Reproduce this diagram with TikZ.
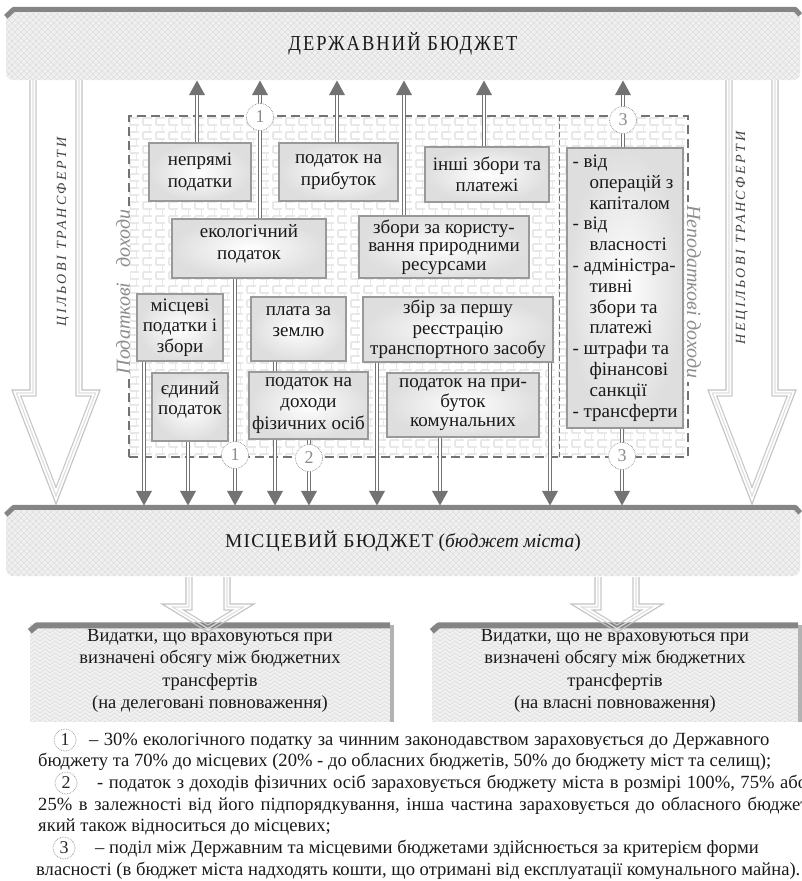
\documentclass[tikz,border=0pt]{standalone}
\usepackage{fontspec}
\setmainfont{Liberation Serif}
\newfontfamily\trackedserif[LetterSpace=18]{Liberation Serif}
\newfontfamily\bannerserif[LetterSpace=11]{Liberation Serif}
\newfontfamily\bannerserifb[LetterSpace=6]{Liberation Serif}
\usepackage{graphicx}
\usetikzlibrary{arrows.meta,patterns,calc}

% brick wall behind the revenue groups
\pgfdeclarepatternformonly{brickwall}{\pgfpoint{-1pt}{-1pt}}{\pgfpoint{14pt}{15pt}}{\pgfpoint{13pt}{14pt}}{%
  \pgfsetlinewidth{1.4pt}%
  \pgfpathmoveto{\pgfpoint{0pt}{0pt}}\pgfpathlineto{\pgfpoint{13pt}{0pt}}%
  \pgfpathmoveto{\pgfpoint{0pt}{7pt}}\pgfpathlineto{\pgfpoint{13pt}{7pt}}%
  \pgfpathmoveto{\pgfpoint{0pt}{0pt}}\pgfpathlineto{\pgfpoint{0pt}{7pt}}%
  \pgfpathmoveto{\pgfpoint{6.5pt}{7pt}}\pgfpathlineto{\pgfpoint{6.5pt}{14pt}}%
  \pgfusepath{stroke}}
% diamond net on the budget banners
\pgfdeclarepatternformonly{diamondnet}{\pgfpoint{-1pt}{-1pt}}{\pgfpoint{7pt}{7pt}}{\pgfpoint{6pt}{6pt}}{%
  \pgfsetlinewidth{0.5pt}%
  \pgfpathmoveto{\pgfpoint{0pt}{0pt}}\pgfpathlineto{\pgfpoint{6pt}{6pt}}%
  \pgfpathmoveto{\pgfpoint{0pt}{6pt}}\pgfpathlineto{\pgfpoint{6pt}{0pt}}%
  \pgfusepath{stroke}}
% zigzag texture of the expenditure boxes
\pgfdeclarepatternformonly{chevrons}{\pgfpoint{-1pt}{-1pt}}{\pgfpoint{11pt}{9pt}}{\pgfpoint{10pt}{8pt}}{%
  \pgfsetlinewidth{0.5pt}%
  \pgfpathmoveto{\pgfpoint{0pt}{0pt}}\pgfpathlineto{\pgfpoint{5pt}{4pt}}\pgfpathlineto{\pgfpoint{10pt}{0pt}}%
  \pgfpathmoveto{\pgfpoint{0pt}{4pt}}\pgfpathlineto{\pgfpoint{5pt}{8pt}}\pgfpathlineto{\pgfpoint{10pt}{4pt}}%
  \pgfusepath{stroke}}

\pgfdeclarelayer{bottom}
\pgfdeclarelayer{links}
\pgfsetlayers{bottom,links,main}

% hollow block arrow drawn as three nested outlines
% #1 cx, #2 top, #3 neck, #4 tip, #5 shaft half width, #6 head half width, #7/#8 inset factors
\newcommand\hollowarrow[8]{%
  \foreach \dd/\col in {0/black!24,3/black!13,6/black!22}{%
    \draw[draw=\col, line width=1.1pt, line join=miter]
      ({#1-#5+\dd},#2) -- ({#1-#5+\dd},{#3+\dd}) -- ({#1-#6+#7*\dd},{#3+\dd})
      -- (#1,{#4-#8*\dd}) -- ({#1+#6-#7*\dd},{#3+\dd}) -- ({#1+#5-\dd},{#3+\dd})
      -- ({#1+#5-\dd},#2);
  }}
% double-line flow arrow
\newcommand\link[2]{\draw[flow] #1 -- #2; \draw[flowcore] #1 -- #2;}

\begin{document}
\begin{tikzpicture}[x=1pt,y=-1pt,
  every node/.style={text=black!90},
  box/.style={draw=black!40, line width=1.1pt, inner color=white, outer color=black!13,
    align=center, inner sep=1pt, font=\fontsize{19}{21.5}\selectfont},
  banner/.style={rounded corners=7pt, fill=black!6,
    postaction={pattern=diamondnet, pattern color=black!13}, minimum width=794pt, inner sep=0pt},
  topbar/.style={draw=black!48, line width=5pt, line join=round},
  region/.style={draw=black!55, line width=1.3pt, dash pattern=on 9pt off 5pt,
    pattern=brickwall, pattern color=black!9, inner sep=0pt},
  numcirc/.style={circle, draw=black!45, densely dotted, line width=0.7pt, fill=white,
    minimum size=27pt, inner sep=0pt, font=\fontsize{18}{18}\selectfont, text=black!45},
  notecirc/.style={numcirc, minimum size=22pt, text=black!85},
  flow/.style={draw=black!55, line width=4.6pt, -{Triangle[width=15pt,length=15pt]}},
  flowcore/.style={draw=white, line width=1.6pt, shorten >=15pt},
  sidelab/.style={font=\itshape\fontsize{20}{20}\selectfont, text=black!45, fill=white,
    inner xsep=3pt, inner ysep=0pt},
  translab/.style={font=\trackedserif\itshape\fontsize{14}{14}\selectfont, text=black!75},
  outbox/.style={fill=black!6, postaction={pattern=chevrons, pattern color=black!15},
    align=center, font=\fontsize{18.5}{22.5}\selectfont, inner sep=0pt},
  note/.style={anchor=base west, inner sep=0pt, font=\fontsize{18.6}{18.6}\selectfont}
]
\useasboundingbox (0,0) rectangle (802,881);

% ---------- budgets ----------
\node[banner, minimum height=72pt] (state) at (403,44)
  {\bannerserif\fontsize{18.5}{18.5}\selectfont\scalebox{1}[1.15]{ДЕРЖАВНИЙ БЮДЖЕТ}};
\draw[topbar] ($(state.north west)+(0,9)$) -- ($(state.north west)+(8,1.5)$)
  -- ($(state.north east)+(-5,1.5)$) -- ($(state.north east)+(0,7)$);

\node[banner, minimum height=70pt] (local) at (403,541)
  {\fontsize{19.5}{19.5}\selectfont{\bannerserifb МІСЦЕВИЙ БЮДЖЕТ} (\textit{бюджет міста})};
\draw[topbar] ($(local.north west)+(0,9)$) -- ($(local.north west)+(8,1.5)$)
  -- ($(local.north east)+(-5,1.5)$) -- ($(local.north east)+(0,7)$);

% ---------- revenue field ----------
\begin{pgfonlayer}{bottom}
  \node[region, minimum width=559pt, minimum height=341pt] (rev) at (408.5,286.5) {};
  \draw[black!55, line width=0.8pt, dash pattern=on 5pt off 3pt] (559,116) -- (559,457);
  \hollowarrow{56}{70}{390}{504}{26}{44}{1.46}{2.78}
  \hollowarrow{752}{70}{390}{504}{26}{44}{1.46}{2.78}
\end{pgfonlayer}

\node[translab, rotate=90] (tl) at (63,232) {ЦІЛЬОВІ ТРАНСФЕРТИ};
\node[translab, rotate=90] (tr) at (742,238) {НЕЦІЛЬОВІ ТРАНСФЕРТИ};
\node[sidelab, rotate=90] (taxlab) at (123,292) {Податкові\ \ \ доходи};
\node[sidelab, rotate=-90] (ntaxlab) at (694,292) {Неподаткові доходи};

% ---------- revenue items ----------
\node[box, minimum width=102pt, minimum height=58pt] (indir) at (200,172) {непрямі\\податки};
\node[box, minimum width=119pt, minimum height=58pt] (profit) at (338.5,172) {податок на\\прибуток};
\node[box, minimum width=124pt, minimum height=55pt] (other) at (487,174.5) {інші збори та\\платежі};
\node[box, minimum width=154pt, minimum height=59pt] (eco) at (249,248.5)
  {екологічний\\податок\\[-8.5pt]\mbox{}};
\node[box, minimum width=170pt, minimum height=62pt, font=\fontsize{19}{18.5}\selectfont] (nature)
  at (444,247) {збори за користу-\\вання природними\\ресурсами};
\node[box, minimum width=86pt, minimum height=67pt, font=\fontsize{19}{20.5}\selectfont] (loctax)
  at (180,327.5) {місцеві\\податки і\\збори};
\node[box, minimum width=95pt, minimum height=64pt] (land) at (298.5,329)
  {плата за\\землю\\[-6.5pt]\mbox{}};
\node[box, minimum width=190pt, minimum height=65pt, font=\fontsize{19}{20.5}\selectfont] (reg)
  at (458,329.5) {збір за першу\\реєстрацію\\транспортного засобу};
\node[box, minimum width=76pt, minimum height=68pt, font=\fontsize{19}{20.5}\selectfont] (single)
  at (190,407) {єдиний\\податок\\[-2.5pt]\mbox{}};
\node[box, minimum width=119pt, minimum height=67pt] (pit) at (308.5,405.5)
  {податок на\\доходи\\фізичних осіб};
\node[box, minimum width=152pt, minimum height=64pt, font=\fontsize{19}{19.5}\selectfont] (comm)
  at (463,405) {податок на при-\\буток\\комунальних};
\node[box, minimum width=116pt, minimum height=280pt, align=left, inner xsep=2pt,
  font=\fontsize{19}{20.8}\selectfont] (nontax) at (625,288)
  {- від\\\hspace*{17pt}операцій з\\\hspace*{17pt}капіталом\\- від\\\hspace*{17pt}власності\\%
   - адміністра-\\\hspace*{17pt}тивні\\\hspace*{17pt}збори та\\\hspace*{17pt}платежі\\%
   - штрафи та\\\hspace*{17pt}фінансові\\\hspace*{17pt}санкції\\- трансферти};

% ---------- split markers ----------
\node[numcirc] (c1a) at (260,117) {1};
\node[numcirc] (c3a) at (623,120) {3};
\node[numcirc] (c1b) at (235,455) {1};
\node[numcirc] (c2)  at (309,458) {2};
\node[numcirc] (c3b) at (622,456) {3};

% ---------- flows ----------
\begin{pgfonlayer}{links}
  % to the state budget
  \coordinate (u1) at ([xshift=-3pt]indir.north);
  \link{(u1)}{(u1 |- state.south)}
  \link{(c1a |- eco.north)}{(c1a |- state.south)}
  \coordinate (u3) at ([xshift=-1.5pt]profit.north);
  \link{(u3)}{(u3 |- state.south)}
  \coordinate (u4) at ([xshift=-40pt]nature.north);
  \link{(u4)}{(u4 |- state.south)}
  \coordinate (u5) at ([xshift=-3pt]other.north);
  \link{(u5)}{(u5 |- state.south)}
  \link{(c3a |- nontax.north)}{(c3a |- state.south)}
  % to the local budget
  \coordinate (d1) at ([xshift=-36pt]loctax.south);
  \link{(d1)}{(d1 |- local.north)}
  \coordinate (d2) at ([xshift=-2pt]single.south);
  \link{(d2)}{(d2 |- local.north)}
  \link{(c1b |- eco.south)}{(c1b |- local.north)}
  \coordinate (d4) at ([xshift=-23.5pt]land.south);
  \link{(d4)}{(d4 |- local.north)}
  \link{(c2 |- pit.south)}{(c2 |- local.north)}
  \coordinate (d6) at ([xshift=-81pt]reg.south);
  \link{(d6)}{(d6 |- local.north)}
  \coordinate (d7) at ([xshift=-23pt]comm.south);
  \link{(d7)}{(d7 |- local.north)}
  \coordinate (d8) at ([xshift=92pt]reg.south);
  \link{(d8)}{(d8 |- local.north)}
  \link{(c3b |- nontax.south)}{(c3b |- local.north)}
\end{pgfonlayer}

% ---------- expenditures ----------
\node[outbox, minimum width=360pt, minimum height=97pt] (outL) at (210,673)
  {\mbox{}\\[-14.5pt]Видатки, що враховуються при\\визначені обсягу між бюджетних\\трансфертів\\(на делеговані повноваження)};
\node[outbox, minimum width=366pt, minimum height=97pt] (outR) at (615,673)
  {\mbox{}\\[-14.5pt]Видатки, що не враховуються при\\визначені обсягу між бюджетних\\трансфертів\\(на власні повноваження)};
\foreach \bx in {outL,outR}{
  \draw[topbar, line width=6pt] ($(\bx.north west)+(0,7)$) -- ($(\bx.north west)+(7,1)$) -- ($(\bx.north east)+(0,1)$);
  \draw[draw=black!30, line width=4pt] ($(\bx.north east)+(2,1)$) -- ($(\bx.south east)+(2,0)$);
}
\hollowarrow{208}{577}{604}{632}{22}{46}{3.57}{1.17}
\hollowarrow{617}{577}{604}{632}{22}{46}{3.57}{1.17}

% ---------- notes ----------
\begin{scope}
\clip (0,0) rectangle (802,881);
\node[notecirc] (f1) at (65,740) {1};
\node[note] (t1) at (89,745) {\spaceskip=5.3pt – 30\% екологічного податку за чинним законодавством зараховується до Державного};
\node[note] (t2) at (38,766) {бюджету та 70\% до місцевих (20\% - до обласних бюджетів, 50\% до бюджету міст та селищ);};
\node[notecirc] (f2) at (66,783) {2};
\node[note] (t3) at (97,788) {\spaceskip=5.6pt - податок з доходів фізичних осіб зараховується бюджету міста в розмірі 100\%, 75\% або};
\node[note] (t4) at (38,810) {\spaceskip=6.6pt 25\% в залежності від його підпорядкування, інша частина зараховується до обласного бюджету,};
\node[note] (t5) at (38,831) {який також відноситься до місцевих;};
\node[notecirc] (f3) at (64,848) {3};
\node[note] (t6) at (95,853) {– поділ між Державним та місцевими бюджетами здійснюється за критерієм форми};
\node[note] (t7) at (36,875) {власності (в бюджет міста надходять кошти, що отримані від експлуатації комунального майна).};
\end{scope}
\end{tikzpicture}
\end{document}
